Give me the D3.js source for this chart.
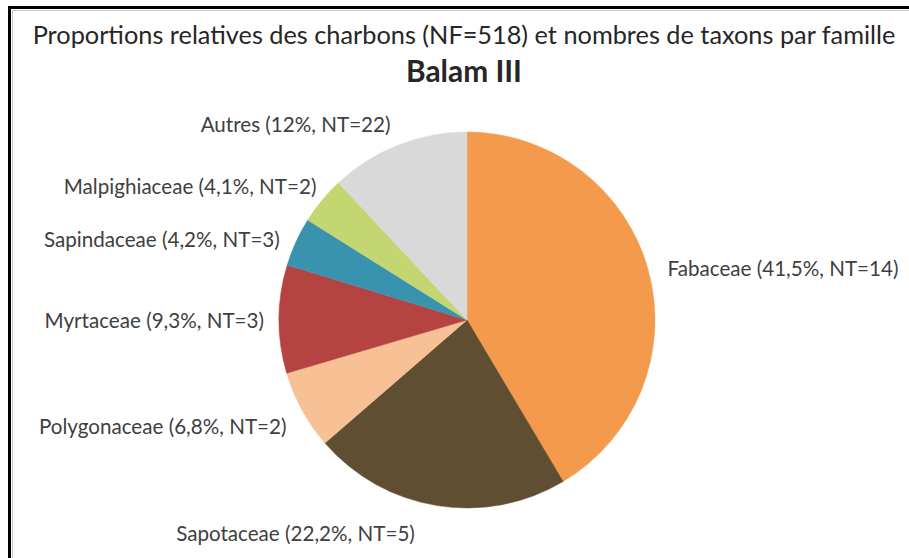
<!DOCTYPE html>
<html>
<head>
<meta charset="utf-8">
<script src="https://cdn.jsdelivr.net/npm/d3@7"></script>
<style>
  html, body { margin: 0; padding: 0; background: #fff; }
  svg { display: block; }
  text { font-family: Lato, "Open Sans", sans-serif; fill: #404040; }
</style>
</head>
<body>
<svg id="chart" width="909" height="558"></svg>
<script>
// Families, in clockwise order from twelve o'clock
const families = ["Fabaceae", "Sapotaceae", "Polygonaceae", "Myrtaceae", "Sapindaceae", "Malpighiaceae", "Autres"];
// Relative proportion of charcoal fragments (%)
const proportions = [41.5, 22.2, 6.8, 9.3, 4.2, 4.1, 12];
// Number of taxa per family
const taxonCounts = [14, 5, 2, 3, 3, 2, 22];
const sliceColors = ["#F39A4C", "#5F4E32", "#F8C095", "#B54341", "#3A93AE", "#C4D672", "#D9D9D9"];

const titleText = "Proportions relatives des charbons (NF=518) et nombres de taxons par famille";
const subtitleText = "Balam III";

const W = 909, H = 558;
const cx = 467, cy = 320, R = 188;

const svg = d3.select("#chart");

// Frame: heavy rule on the left and top, with a faint inner line
svg.append("path")
  .attr("d", `M12.5,${H} V10.5 H${W}`)
  .attr("fill", "none").attr("stroke", "#c8c8c8").attr("stroke-width", 1);
svg.append("path")
  .attr("d", `M9.5,${H} V7.5 H${W}`)
  .attr("fill", "none").attr("stroke", "#000").attr("stroke-width", 3);

// Fit a text element's font size so it spans a given width
function fitWidth(sel, target) {
  const node = sel.node();
  const fs = parseFloat(sel.attr("font-size"));
  const w = node.getComputedTextLength();
  sel.attr("font-size", (fs * target / w).toFixed(2));
}

const title = svg.append("text")
  .attr("x", 464).attr("y", 44)
  .attr("text-anchor", "middle")
  .attr("font-size", 24)
  .style("fill", "#262626")
  .text(titleText);
fitWidth(title, 863);

const sub = svg.append("text")
  .attr("x", 464).attr("y", 82)
  .attr("text-anchor", "middle")
  .attr("font-size", 24)
  .attr("font-weight", "bold")
  .style("fill", "#262626")
  .text(subtitleText);
fitWidth(sub, 116);

const data = families.map((f, i) => ({ name: f, value: proportions[i], nt: taxonCounts[i], color: sliceColors[i] }));

const pie = d3.pie().sort(null).value(d => d.value);
const arcs = pie(data);
const arc = d3.arc().innerRadius(0).outerRadius(R);

const g = svg.append("g").attr("transform", `translate(${cx},${cy})`);
g.selectAll("path.slice")
  .data(arcs)
  .join("path")
  .attr("class", "slice")
  .attr("d", arc)
  .attr("fill", d => d.data.color)
  .attr("stroke", d => d.data.color)
  .attr("stroke-width", 0.5);

const fmt = v => String(v).replace(".", ",");
const labelText = d => `${d.data.name} (${fmt(d.data.value)}%, NT=${d.data.nt})`;

// Small nudges for labels the layout shifts away from their slices
const nudge = { "Autres": [0, -2], "Sapotaceae": [-19, 8], "Fabaceae": [0, 4],
                "Polygonaceae": [2, 7], "Myrtaceae": [5, 2], "Sapindaceae": [2, 6], "Malpighiaceae": [10, -1] };

const labelR = R + 20;
const labels = g.selectAll("text.lbl")
  .data(arcs)
  .join("text")
  .attr("class", "lbl")
  .attr("font-size", 19)
  .each(function(d) {
    const a = (d.startAngle + d.endAngle) / 2;
    const n = nudge[d.data.name] || [0, 0];
    const x = Math.sin(a) * labelR + n[0];
    const y = -Math.cos(a) * labelR + n[1];
    d3.select(this)
      .attr("x", x).attr("y", y)
      .attr("dy", "0.36em")
      .attr("text-anchor", Math.sin(a) >= 0 ? "start" : "end");
  })
  .text(labelText);

// Scale label font so the Fabaceae label spans its measured width
const fab = labels.filter(d => d.data.name === "Fabaceae");
const fs0 = 19;
const w0 = fab.node().getComputedTextLength();
labels.attr("font-size", (fs0 * 231 / w0).toFixed(2));
</script>
</body>
</html>
